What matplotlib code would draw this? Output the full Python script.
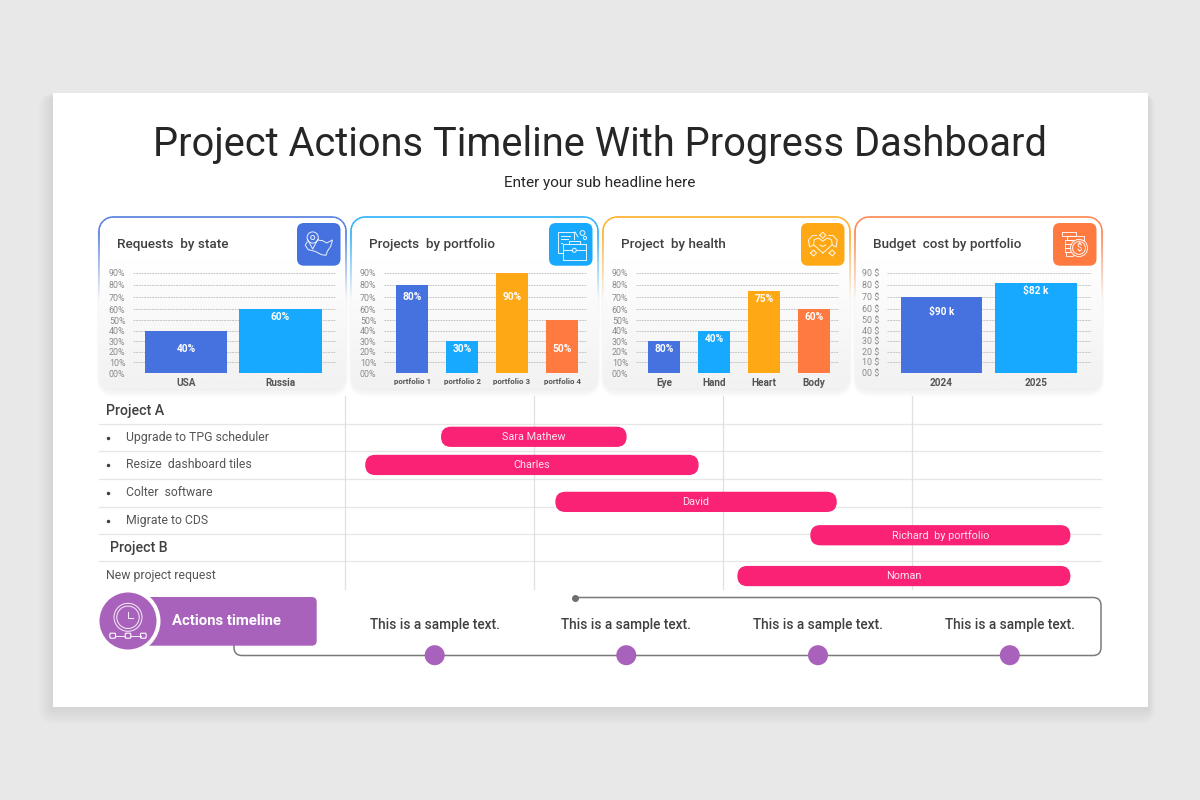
import numpy as np
import matplotlib
matplotlib.use('Agg')
import matplotlib.pyplot as plt
from matplotlib.collections import LineCollection
from matplotlib.patches import Circle, FancyBboxPatch, Rectangle
from matplotlib.path import Path

plt.rcParams['font.family'] = ['Roboto', 'DejaVu Sans']

BLUE, CYAN, AMBER, ORANGE = '#4572DE', '#17A9FD', '#FEA816', '#FE7A40'
PURPLE, PINK = '#A862BB', '#F92274'
DARK, TEXT, SOFT, MUTED = '#262626', '#404040', '#555555', '#8A8A8A'

# top row of charts
card_titles = ['Requests  by state', 'Projects  by portfolio', 'Project  by health', 'Budget  cost by portfolio']
card_colors = [BLUE, CYAN, AMBER, ORANGE]

state_names = ['USA', 'Russia']
state_values = [40, 60]
state_labels = ['40%', '60%']

portfolio_names = ['portfolio 1', 'portfolio 2', 'portfolio 3', 'portfolio 4']
portfolio_values = [80, 30, 90, 50]
portfolio_labels = ['80%', '30%', '90%', '50%']

health_names = ['Eye', 'Hand', 'Heart', 'Body']
health_values = [30, 40, 75, 60]
health_labels = ['80%', '40%', '75%', '60%']

budget_names = ['2024', '2025']
budget_values = [70, 82]
budget_labels = ['$90 k', '$82 k']

tick_values = [0, 10, 20, 30, 40, 50, 60, 70, 80, 90]
percent_ticks = ['00%', '10%', '20%', '30%', '40%', '50%', '60%', '70%', '80%', '90%']
dollar_ticks = ['00 $', '10 $', '20 $', '30 $', '40 $', '50 $', '60 $', '70 $', '80 $', '90 $']

# the reference axis is not evenly spaced, upper ticks sit further apart
tick_heights = [0, 11, 21.5, 32, 42.5, 53, 64, 76, 88, 100.3]

# gantt
task_people = ['Sara Mathew', 'Charles', 'David', 'Richard  by portfolio', 'Noman']
task_start = [0.508, 0.107, 1.113, 2.462, 2.076]
task_end = [1.490, 1.871, 2.602, 3.838, 3.838]
task_row = [1.48, 2.50, 3.84, 5.05, 6.53]

row_labels = ['Project A', 'Upgrade to TPG scheduler', 'Resize  dashboard tiles', 'Colter  software',
              'Migrate to CDS', 'Project B', 'New project request']

timeline_title = 'Actions timeline'
timeline_notes = ['This is a sample text.'] * 4


def box(x0, y0, x1, y1):
    return [x0 / 1200, 1 - y1 / 800, (x1 - x0) / 1200, (y1 - y0) / 800]


def rounded(x0, y0, x1, y1, r, **kw):
    return FancyBboxPatch((x0, y0), x1 - x0, y1 - y0, boxstyle=f'round,pad=0,rounding_size={r}', **kw)


fig = plt.figure(figsize=(12, 8), dpi=100, facecolor='#E9E8E9')
canvas = fig.add_axes([0, 0, 1, 1], zorder=0)
canvas.set_xlim(0, 1200)
canvas.set_ylim(800, 0)
canvas.axis('off')

# slide and its soft shadow, heavier below than above
for grow in range(1, 20):
    canvas.add_patch(rounded(53 - grow * 0.8, 93 - grow * 0.3 + 5, 1148 + grow * 0.4, 707 + grow * 0.9 + 1, grow,
                             fc='black', ec='none', alpha=0.0045))
canvas.add_patch(Rectangle((53, 93), 1095, 614, fc='white', ec='none'))

canvas.text(600, 144, 'Project Actions Timeline With Progress Dashboard', ha='center', va='center',
            fontsize=28.75, color=DARK)
canvas.text(600, 182.5, 'Enter your sub headline here', ha='center', va='center', fontsize=11, color=DARK)


def rounded_outline(x0, y0, x1, y1, r, n=14):
    a = np.linspace(0, np.pi / 2, n)
    pts = []
    for cx, cy, start in [(x0 + r, y0 + r, np.pi), (x1 - r, y0 + r, 1.5 * np.pi),
                          (x1 - r, y1 - r, 0), (x0 + r, y1 - r, 0.5 * np.pi)]:
        pts += [(cx + r * np.cos(start + t), cy + r * np.sin(start + t)) for t in a]
    pts.append(pts[0])
    pts = np.array(pts)
    # split the straight sides so the colour fade stays smooth
    dense = [pts[0]]
    for p, q in zip(pts[:-1], pts[1:]):
        steps = max(1, int(np.hypot(*(q - p)) / 3))
        for s in range(1, steps + 1):
            dense.append(p + (q - p) * s / steps)
    return np.array(dense)


def draw_card(x0, x1, color, title):
    y0, y1 = 217, 391
    for grow in range(1, 6):
        canvas.add_patch(rounded(x0 - grow * 0.5, y0 - grow * 0.3 + 2, x1 + grow * 0.5, y1 + grow + 1, 14 + grow,
                                 fc='black', ec='none', alpha=0.009))
    base = rounded(x0, y0, x1, y1, 14, fc='white', ec='none')
    canvas.add_patch(base)
    shade = np.clip((np.linspace(y0, y1, 100) - 250) / (y1 - 250), 0, 1)
    shade = 1 - 0.055 * shade
    img = canvas.imshow(shade[:, None], extent=(x0, x1, y1, y0), cmap='gray', vmin=0, vmax=1,
                        aspect='auto', zorder=1.1)
    img.set_clip_path(base)
    canvas.set_xlim(0, 1200)
    canvas.set_ylim(800, 0)

    pts = rounded_outline(x0, y0, x1, y1, 14)
    segs = np.stack([pts[:-1], pts[1:]], axis=1)
    rgba = np.tile(matplotlib.colors.to_rgba(color), (len(segs), 1))
    rgba[:, 3] = np.clip((300 - segs[:, :, 1].mean(axis=1)) / 65, 0, 1)
    canvas.add_collection(LineCollection(segs, colors=rgba, linewidths=1.1, zorder=1.2))
    canvas.text(x0 + 18, 244.5, title, ha='left', va='center', fontsize=9.7, weight='medium',
                color=TEXT, zorder=2)
    canvas.add_patch(rounded(x1 - 49, 223, x1 - 5.5, 265.7, 7, fc=color, ec='none', zorder=2))


def icon_line(ox, oy, pts, closed=False, lw=0.75):
    pts = list(pts)
    if closed:
        pts.append(pts[0])
    xs = [ox + p[0] for p in pts]
    ys = [oy + p[1] for p in pts]
    canvas.plot(xs, ys, color='white', lw=lw, alpha=0.85, solid_joinstyle='round', zorder=3)


def icon_ring(ox, oy, x, y, r, lw=0.75, fill='none'):
    canvas.add_patch(Circle((ox + x, oy + y), r, fc=fill, ec='white', lw=lw, alpha=0.85, zorder=3))


def icon_map(ox, oy):
    icon_line(ox, oy, [(10, 19), (8.3, 22.3), (11.3, 26.7), (18, 28.3), (21.3, 30), (24.7, 31.7), (29, 32.3),
                       (30.3, 28.3), (33.7, 23.3), (35.5, 17), (29.7, 20), (25.7, 17.7), (20.5, 17)])
    icon_line(ox, oy, [(10.6, 16.5), (15.7, 26), (20.8, 16.5)])
    icon_ring(ox, oy, 15.7, 14.5, 5.6)
    icon_ring(ox, oy, 15.7, 14.5, 2)


def icon_case(ox, oy):
    icon_line(ox, oy, [(13, 30), (9, 30), (9, 8.5), (25, 8.5), (25, 16)])
    for y, end in [(12.5, 21), (16, 19), (19.5, 13)]:
        icon_line(ox, oy, [(12, y), (end, y)])
    icon_line(ox, oy, [(14.3, 21), (36.7, 21), (36.7, 36.7), (14.3, 36.7)], closed=True)
    icon_line(ox, oy, [(20, 21), (20, 17.5), (31, 17.5), (31, 21)])
    icon_line(ox, oy, [(14.3, 27), (23.2, 27)])
    icon_line(ox, oy, [(27.4, 27), (36.7, 27)])
    icon_ring(ox, oy, 25.3, 27.3, 2)
    icon_line(ox, oy, [(26, 9), (29, 14)])
    icon_ring(ox, oy, 33.5, 10, 2.4)
    icon_ring(ox, oy, 36, 15, 1.6)


def icon_heart(ox, oy):
    icon_line(ox, oy, [(21.3, 30), (12, 21.7), (12.7, 16.7), (17, 15), (21.3, 18.3), (25.7, 15),
                       (30, 16.7), (30.7, 21.7)], closed=True)
    icon_line(ox, oy, [(18.5, 22), (21.3, 23.5), (24, 22)])
    for x, y in [(21.3, 12.2), (12, 30), (30.7, 30)]:
        icon_line(ox, oy, [(x - 3, y), (x, y - 3), (x + 3, y), (x, y + 3)], closed=True)
    for flip in [False, True]:
        arm = [(12, 22), (8, 24), (7, 17), (11, 12.5), (15, 12.5)]
        icon_line(ox, oy, [(42.6 - x, y) if flip else (x, y) for x, y in arm])


def icon_coins(ox, oy):
    for x0, x1, y0, y1 in [(8.7, 23, 9.3, 13.3), (14, 31, 13.3, 17), (11.5, 21, 17, 21), (11.5, 19, 21, 25),
                           (11.5, 18.5, 25, 29), (13, 20, 29, 33)]:
        icon_line(ox, oy, [(x0, y0), (x1, y0), (x1, y1), (x0, y1)], closed=True)
    icon_ring(ox, oy, 26, 25, 8.6, fill=ORANGE)
    icon_ring(ox, oy, 26, 25, 6.4)
    canvas.text(ox + 26, oy + 25, '$', color='white', ha='center', va='center', fontsize=7, zorder=4)


def draw_chart(limits, xlim, names, values, labels, ticks, color_list, width, drops, name_size):
    ax = fig.add_axes(box(limits[0], 272.7, limits[1], 373), zorder=2)
    ax.patch.set_visible(False)
    ax.set_yscale('function', functions=(lambda v: np.interp(v, tick_values, tick_heights),
                                         lambda h: np.interp(h, tick_heights, tick_values)))
    xs = np.arange(len(names))
    bars = ax.bar(xs, values, width=width, color=color_list, zorder=3)
    ax.set_xlim(*xlim)
    ax.set_ylim(0, 90)
    ax.set_yticks(tick_values)
    ax.set_yticklabels(ticks, fontsize=6.4, color=MUTED)
    ax.minorticks_off()
    ax.set_xticks(xs)
    ax.set_xticklabels(names, fontsize=name_size, weight='bold', color=SOFT)
    ax.tick_params(axis='both', length=0)
    ax.tick_params(axis='y', pad=5.5)
    ax.tick_params(axis='x', pad=3.5)
    ax.grid(axis='y', color='#BDBDBD', lw=0.6, ls=(0, (2.2, 1)), zorder=1)
    ax.set_axisbelow(True)
    for s in ax.spines.values():
        s.set_visible(False)
    for b, label, drop in zip(bars, labels, drops):
        ax.annotate(label, (b.get_x() + b.get_width() / 2, b.get_height()), xytext=(0, -drop),
                    textcoords='offset pixels', ha='center', va='center', color='white',
                    fontsize=7.3, weight='bold', zorder=4)
    return ax


cards = [(99, 346), (351, 598), (603, 850), (855, 1102)]
for (x0, x1), color, title in zip(cards, card_colors, card_titles):
    draw_card(x0, x1, color, title)

icon_map(297, 223)
icon_case(549, 223)
icon_heart(801.5, 223)
icon_coins(1053, 223)

draw_chart((133, 336), (-0.56, 1.587), state_names, state_values, state_labels, percent_ticks,
           [BLUE, CYAN], 0.868, [18.5, 8], 7.2)
draw_chart((384, 587), (-0.56, 3.5), portfolio_names, portfolio_values, portfolio_labels, percent_ticks,
           [BLUE, CYAN, AMBER, ORANGE], 0.64, [12, 8, 24, 29], 5.7)
draw_chart((636, 839), (-0.56, 3.5), health_names, health_values, health_labels, percent_ticks,
           [BLUE, CYAN, AMBER, ORANGE], 0.64, [8, 8, 8, 8], 7.2)
draw_chart((887, 1090.7), (-0.577, 1.58), budget_names, budget_values, budget_labels, dollar_ticks,
           [BLUE, CYAN], 0.868, [15, 8.5], 7.2)

# gantt grid, drawn on the canvas since the rules run past the gantt axes
for y in [423.5, 451.3, 478.7, 506.7, 534, 561.3]:
    canvas.plot([99, 1101], [y, y], color='#E6E6E6', lw=0.9, zorder=1)
for x in [345, 534, 723, 912]:
    canvas.plot([x, x], [396, 589], color='#E0E0E0', lw=0.9, zorder=1)

gantt = fig.add_axes(box(345, 396, 1101, 589), zorder=2)
gantt.set_xlim(0, 4)
gantt.set_ylim(7, 0)
gantt.axis('off')
for start, end, row, person in zip(task_start, task_end, task_row, task_people):
    gantt.add_patch(FancyBboxPatch((start, row - 0.367), end - start, 0.734,
                                   boxstyle='round,pad=0,rounding_size=0.053',
                                   mutation_aspect=189 / 27.57, fc=PINK, ec='none'))
    gantt.text((start + end) / 2, row, person, ha='center', va='center', color='#FCE3EE', fontsize=7.85)

row_x = [106, 126, 126, 126, 126, 110, 106]
row_y = [410.5, 438, 465, 493, 520.5, 548, 576]
for label, x, y in zip(row_labels, row_x, row_y):
    head = label.startswith('Project')
    canvas.text(x, y, label, ha='left', va='center', color=TEXT if head else SOFT,
                fontsize=10.2 if head else 8.85, weight='medium' if head else 'normal', zorder=2)
    if x == 126:
        canvas.plot([108], [y], 'o', ms=1.5, color=TEXT, zorder=2)

# timeline strip
verts = [(575, 597.5), (1093, 597.5), (1101, 597.5), (1101, 605.5), (1101, 647.5), (1101, 655.5), (1093, 655.5),
         (242, 655.5), (234, 655.5), (234, 647.5), (234, 640)]
codes = [Path.MOVETO, Path.LINETO, Path.CURVE3, Path.CURVE3, Path.LINETO, Path.CURVE3, Path.CURVE3,
         Path.LINETO, Path.CURVE3, Path.CURVE3, Path.LINETO]
canvas.add_patch(matplotlib.patches.PathPatch(Path(verts, codes), fc='none', ec='#7A7A7A', lw=1.1, zorder=1))
canvas.plot([575], [597.5], 'o', ms=4, color='#6E6E6E', zorder=2)

canvas.add_patch(rounded(140, 597, 316.7, 645.7, 5, fc=PURPLE, ec='none', zorder=2))
canvas.add_patch(Circle((128, 621), 32.5, fc='white', ec='none', zorder=2.1))
canvas.add_patch(Circle((128, 621), 28.5, fc=PURPLE, ec='none', zorder=2.2))
canvas.text(226.5, 621, timeline_title, ha='center', va='center', color='white', fontsize=10.7,
            weight='bold', zorder=3)

icon_ring(0, 0, 128, 617.3, 14)
icon_ring(0, 0, 128, 617.3, 11.2)
icon_line(0, 0, [(128, 612), (128, 617.5), (132.5, 617.5)])
for x in [112.7, 128, 143.3]:
    canvas.add_patch(rounded(x - 2.8, 633.2, x + 2.8, 638.2, 1, fc='none', ec='white', lw=0.8, zorder=3))
icon_line(0, 0, [(115.5, 635.7), (125.2, 635.7)])
icon_line(0, 0, [(130.8, 635.7), (140.5, 635.7)])

for x, note in zip([434.7, 626.3, 818, 1009.8], timeline_notes):
    canvas.text(x, 625, note, ha='center', va='center', color=TEXT, fontsize=9.8, weight='medium', zorder=2)
    canvas.add_patch(Circle((x, 655.2), 10, fc=PURPLE, ec='none', zorder=2))

fig.savefig('out.png', dpi=100, facecolor=fig.get_facecolor())
